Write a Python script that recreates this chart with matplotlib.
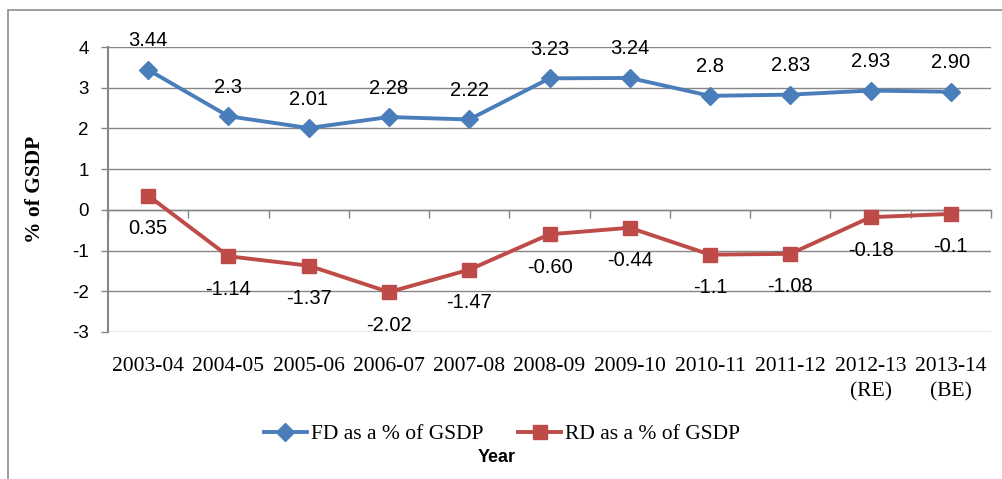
import numpy as np
import matplotlib
matplotlib.use("Agg")
import matplotlib.pyplot as plt
from matplotlib.patches import Rectangle

# data
years = ["2003-04", "2004-05", "2005-06", "2006-07", "2007-08", "2008-09",
         "2009-10", "2010-11", "2011-12", "2012-13\n(RE)", "2013-14\n(BE)"]
fd = [3.44, 2.30, 2.01, 2.28, 2.22, 3.23, 3.24, 2.80, 2.83, 2.93, 2.90]
rd = [0.35, -1.14, -1.37, -2.02, -1.47, -0.60, -0.44, -1.10, -1.08, -0.18, -0.10]
fd_labels = ["3.44", "2.3", "2.01", "2.28", "2.22", "3.23", "3.24", "2.8", "2.83", "2.93", "2.90"]
rd_labels = ["0.35", "-1.14", "-1.37", "-2.02", "-1.47", "-0.60", "-0.44", "-1.1", "-1.08", "-0.18", "-0.1"]
yticks = [-3, -2, -1, 0, 1, 2, 3, 4]

GRID = "#868686"
BLUE = "#4A7EBB"
RED = "#BE4B48"
SANS = "Liberation Sans"
SERIF = "Liberation Serif"

fig = plt.figure(figsize=(10.03, 4.79), dpi=100)
ax = fig.add_axes([108 / 1003, 1 - 332 / 479, (991 - 108) / 1003, (332 - 47) / 479])

# outer frame (left and top edges visible)
fig.patches.append(Rectangle((8 / 1003, -0.5), 1.5, 1.5 - 10 / 479, transform=fig.transFigure,
                             fill=False, edgecolor="#8c8c8c", linewidth=1.2))

x = np.arange(len(years))
ax.plot(x, fd, color=BLUE, lw=2.8, marker="D", ms=9, label="FD as a % of GSDP", zorder=3)
ax.plot(x, rd, color=RED, lw=2.8, marker="s", ms=10.5, label="RD as a % of GSDP", zorder=3)

for xi, v, t in zip(x, fd, fd_labels):
    ax.annotate(t, (xi, v), xytext=(0, 29), textcoords="offset pixels",
                ha="center", va="center", fontsize=14.5, family=SANS, color="black")
for xi, v, t in zip(x, rd, rd_labels):
    ax.annotate(t, (xi, v), xytext=(0, -33), textcoords="offset pixels",
                ha="center", va="center", fontsize=14.5, family=SANS, color="black")

ax.set_xlim(-0.5, len(years) - 0.5)
ax.set_ylim(-3, 4)
ax.set_yticks(yticks)
ax.set_yticklabels([str(v) for v in yticks], fontsize=13.5, family=SANS)
ax.tick_params(axis="y", length=5, width=1, color=GRID, pad=9)
ax.grid(axis="y", color=GRID, lw=1)
ax.set_axisbelow(True)

ax.set_xticks(x)
ax.set_xticklabels(years, fontsize=15.5, family=SERIF, va="top", linespacing=1.45)
ax.tick_params(axis="x", length=0, pad=18)

for s in ["top", "right", "bottom"]:
    ax.spines[s].set_visible(False)
ax.spines["left"].set_color(GRID)
ax.spines["left"].set_linewidth(1.5)

# category axis crossing at zero with boundary ticks
zero_frac = (0 - (-3)) / 7
sec = ax.secondary_xaxis(zero_frac)
sec.set_xticks(np.arange(len(years) + 1) - 0.5)
sec.set_xticklabels([])
sec.tick_params(axis="x", direction="out", length=6, width=1, color=GRID)
sec.spines["bottom"].set_color(GRID)
sec.spines["bottom"].set_linewidth(1)

ax.set_ylabel("% of GSDP", fontsize=15.5, family=SERIF, fontweight="bold")
ax.yaxis.set_label_coords(-63 / 883, 0.5)

leg = fig.legend(loc="center", bbox_to_anchor=(502 / 1003, 1 - 434 / 479), ncol=2,
                 frameon=False, prop={"family": SERIF, "size": 15.5},
                 handlelength=2.0, columnspacing=1.6, handletextpad=0.2)
fig.text(497 / 1003, 1 - 457 / 479, "Year", ha="center", va="center",
         fontsize=13, family=SANS, fontweight="bold")

fig.savefig("out.png", dpi=100)
